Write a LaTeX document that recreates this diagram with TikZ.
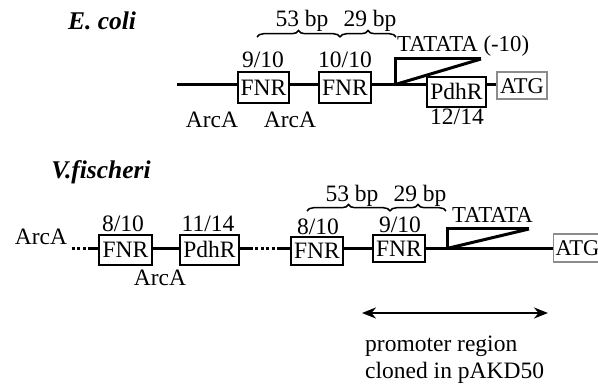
\documentclass[tikz,border=0pt]{standalone}
\usepackage{fontspec}
\setmainfont{Liberation Serif}
\usetikzlibrary{decorations.pathreplacing,arrows.meta,backgrounds}
\begin{document}
\begin{tikzpicture}[x=1pt,y=-1pt,
  txt/.style={inner sep=0pt,font=\fontsize{23.5}{26}\selectfont},
  smalltxt/.style={inner sep=0pt,font=\fontsize{22.8}{25}\selectfont},
  title/.style={inner sep=0pt,font=\fontsize{25.5}{28}\selectfont\bfseries\itshape},
  box/.style={draw=black,line width=1.1pt,fill=white,inner sep=0pt,
    font=\fontsize{23.5}{26}\selectfont,text height=15.5pt,text depth=0pt},
  gbox/.style={box,draw=black!45,font=\fontsize{22.5}{26}\selectfont},
  dna/.style={line width=3pt},
  dots/.style={line width=3pt,dash pattern=on 3pt off 2.4pt},
  brc/.style={decorate,decoration={brace,amplitude=6.5pt},line width=1.5pt},
  dbl/.style={line width=2.5pt,{Stealth[length=14pt,width=11pt]}-{Stealth[length=14pt,width=11pt]}}
]
\useasboundingbox (0,0) rectangle (598,385);

% ---------------- E. coli ----------------
\node[title,anchor=base] (tE) at (102,30) {E. coli};

\node[box,minimum width=51pt,minimum height=31pt] (F1) at (263.5,87.5) {FNR};
\node[box,minimum width=52pt,minimum height=31pt] (F2) at (345,87.5) {FNR};
\node[box,minimum width=59pt,minimum height=30pt] (P1) at (456.5,92) {PdhR};
\node[gbox,minimum width=50pt,minimum height=27pt] (A1) at (522,85.5) {ATG};
\coordinate (e0) at (177,85);
\coordinate (pr1) at (395,85);
\coordinate (pt1) at (395,59);
\coordinate (pe1) at (481,59);
\coordinate (pd1) at (397,84);

\begin{scope}[on background layer]
  \draw[dna] (e0) -- (A1.west |- e0);
\end{scope}
\draw[dna] (pr1) -- (pt1) -- (pe1);
\draw[dna] (pe1) -- (pd1);

\node[txt,anchor=base] (l1) at (263,68) {9/10};
\node[txt,anchor=base] (l2) at (345,68) {10/10};
\node[txt,anchor=base] (l3) at (457,125) {12/14};
\node[txt,anchor=base] (a1) at (212,128) {ArcA};
\node[txt,anchor=base] (a2) at (290,128) {ArcA};
\node[smalltxt,anchor=base west] (t1) at (397,52) {TATATA (-10)};

\coordinate (b1) at (257,37);
\coordinate (b2) at (340,37);
\coordinate (b3) at (396,37);
\draw[brc] (b1) -- (b2);
\draw[brc] (b2) -- (b3);
\node[txt,anchor=base] (s1) at (302,27) {53 bp};
\node[txt,anchor=base] (s2) at (370,27) {29 bp};

% ---------------- V. fischeri ----------------
\node[title,anchor=base] (tV) at (101,179) {V.fischeri};

\node[box,minimum width=53pt,minimum height=30pt] (VF1) at (125.5,250) {FNR};
\node[box,minimum width=59pt,minimum height=30pt] (VP1) at (209.5,250) {PdhR};
\node[box,minimum width=52pt,minimum height=28pt] (VF2) at (317,251) {FNR};
\node[box,minimum width=52pt,minimum height=27pt] (VF3) at (399,248.5) {FNR};
\node[gbox,minimum width=50pt,minimum height=28pt,anchor=west,inner xsep=2pt,text width=46pt] (VA) at (553,248) {ATG};

\coordinate (v0) at (72,249);
\coordinate (v1) at (90,249);
\coordinate (v2) at (250,249);
\coordinate (v3) at (278,249);
\coordinate (pr2) at (447,249);
\coordinate (pt2) at (447,229);
\coordinate (pe2) at (529,229);
\coordinate (pd2) at (449,248);

\draw[dots] (v0) -- (v1);
\draw[dna] (v1) -- (VF1.west |- v1);
\draw[dna] (VF1.east |- v1) -- (VP1.west |- v1);
\draw[dna] (VP1.east |- v1) -- (v2);
\draw[dots] (v2) -- (v3);
\draw[dna] (v3) -- (VF2.west |- v3);
\draw[dna] (VF2.east |- v3) -- (VF3.west |- v3);
\draw[dna] (VF3.east |- v3) -- (VA.west |- v3);
\draw[dna] (pr2) -- (pt2) -- (pe2);
\draw[dna] (pe2) -- (pd2);

\node[txt,anchor=base] (va1) at (41,245) {ArcA};
\node[txt,anchor=base] (va2) at (160,286) {ArcA};
\node[txt,anchor=base] (vl1) at (123,232) {8/10};
\node[txt,anchor=base] (vl2) at (208,232) {11/14};
\node[txt,anchor=base] (vl3) at (318,235) {8/10};
\node[txt,anchor=base] (vl4) at (400,233) {9/10};
\node[smalltxt,anchor=base west] (vt) at (452,223) {TATATA};

\coordinate (c1) at (307,211);
\coordinate (c2) at (390,211);
\coordinate (c3) at (446,211);
\draw[brc] (c1) -- (c2);
\draw[brc] (c2) -- (c3);
\node[txt,anchor=base] (vs1) at (352,202) {53 bp};
\node[txt,anchor=base] (vs2) at (420,202) {29 bp};

% ---------------- promoter region ----------------
\coordinate (r1) at (362,313);
\coordinate (r2) at (548,313);
\draw[dbl] (r1) -- (r2);
\node[txt,anchor=base west] (pr) at (365,352) {promoter region};
\node[txt,anchor=base west] (cl) at (365,378) {cloned in pAKD50};
\end{tikzpicture}
\end{document}
